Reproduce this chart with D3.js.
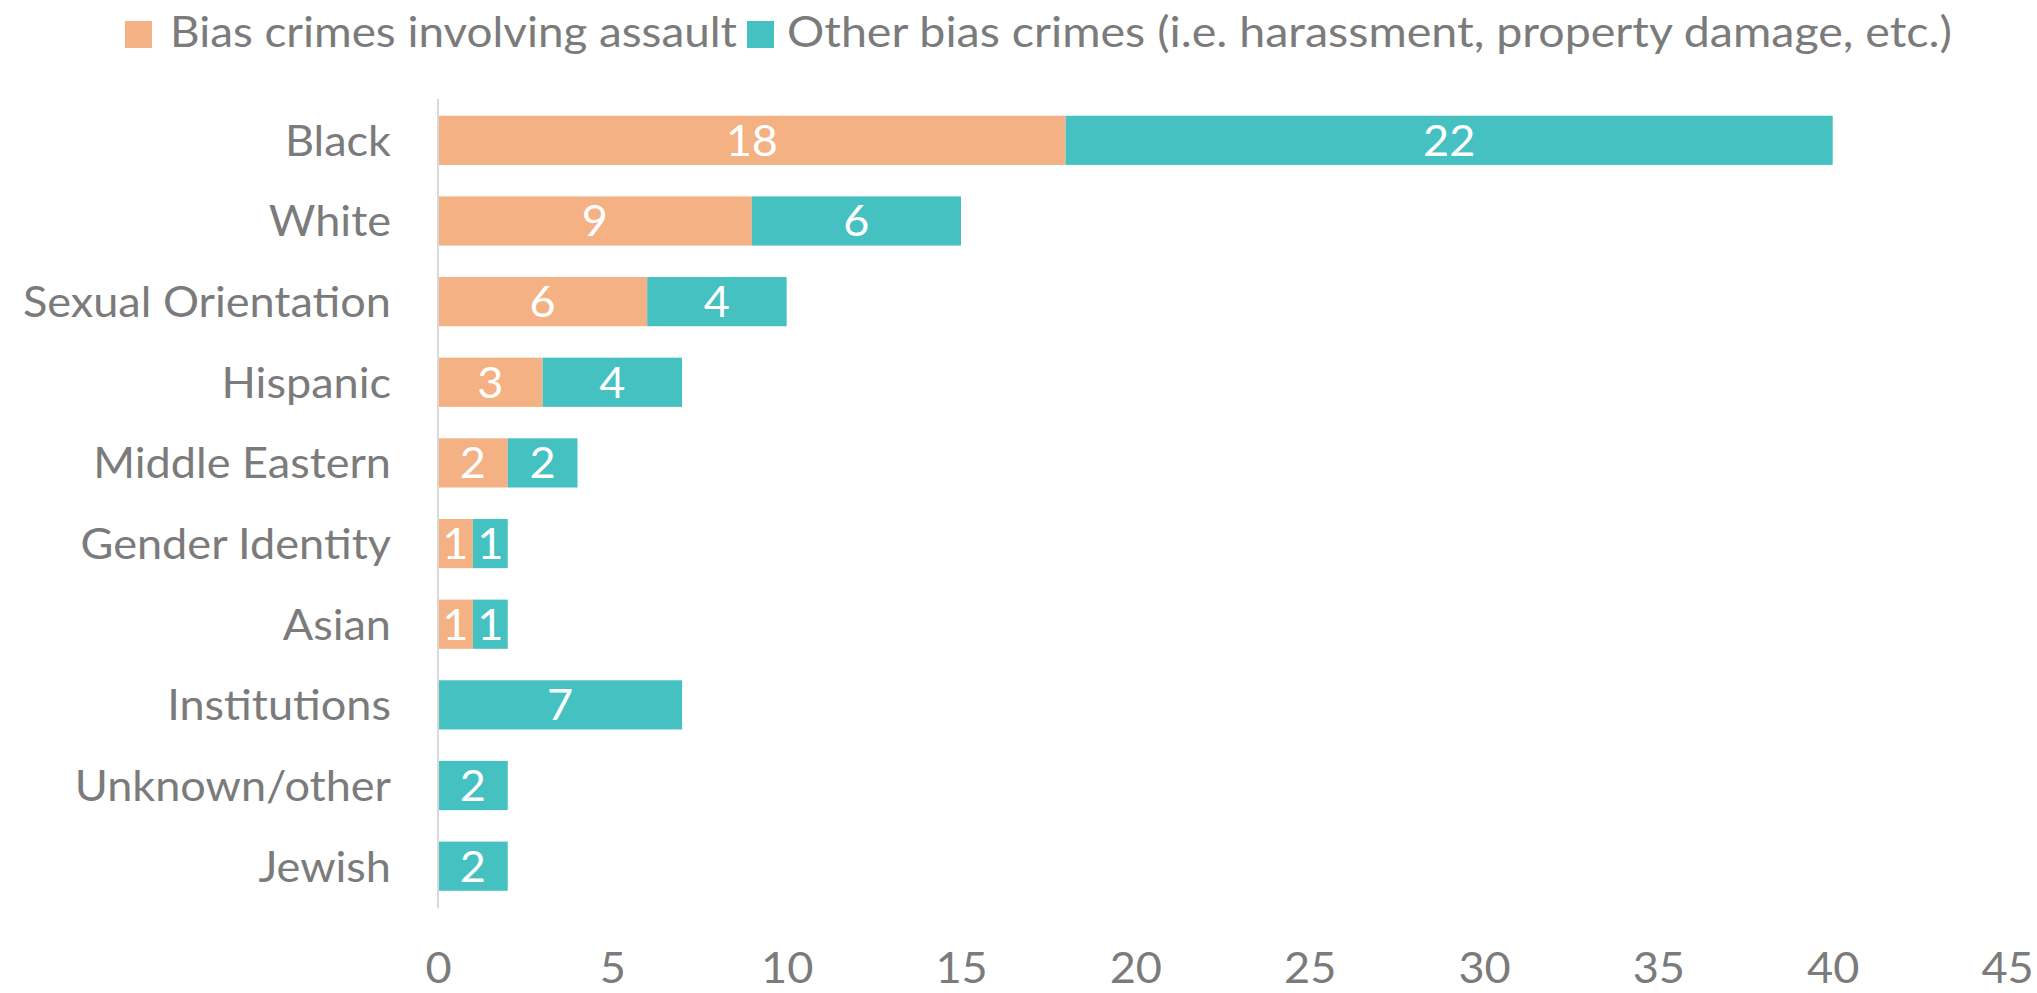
<!DOCTYPE html>
<html>
<head>
<meta charset="utf-8">
<script src="https://cdn.jsdelivr.net/npm/d3@7"></script>
<style>
  html, body { margin: 0; padding: 0; background: #ffffff; }
  svg { display: block; }
</style>
</head>
<body>
<svg id="chart" width="2037" height="993"></svg>
<script>
const categories = ["Black", "White", "Sexual Orientation", "Hispanic", "Middle Eastern",
  "Gender Identity", "Asian", "Institutions", "Unknown/other", "Jewish"];
const assault = [18, 9, 6, 3, 2, 1, 1, 0, 0, 0];
const other = [22, 6, 4, 4, 2, 1, 1, 7, 2, 2];
const seriesNames = ["Bias crimes involving assault", "Other bias crimes (i.e. harassment, property damage, etc.)"];
const xTicks = [0, 5, 10, 15, 20, 25, 30, 35, 40, 45];

const colors = ["#F4B183", "#46C1C1"];
const textColor = "#7B7B7B";
const FONT = "Lato, 'Open Sans', sans-serif";
const FS = 43;
const capH = FS * 0.717;

const svg = d3.select("#chart");
const x = d3.scaleLinear().domain([0, 45]).range([438, 2007]);
const y = d3.scaleBand().domain(categories).range([100, 906.5]).paddingInner(0.39).paddingOuter(0.195);

// measure horizontal compression factor (Calibri is narrower)
const probe = svg.append("text").attr("font-family", FONT).attr("font-size", FS).text("Sexual Orientation");
const k = 368 / probe.node().getComputedTextLength();
probe.remove();
function squeeze(sel) {
  sel.each(function() {
    const w = this.getComputedTextLength();
    d3.select(this).attr("textLength", w * k).attr("lengthAdjust", "spacingAndGlyphs");
  });
}

// stacked data
const data = categories.map((c, i) => ({cat: c, vals: [assault[i], other[i]]}));
const stack = d3.stack().keys([0, 1]).value((d, key) => d.vals[key]);
const stacked = stack(data);

const gBars = svg.append("g");
stacked.forEach((layer, si) => {
  gBars.selectAll(null).data(layer.filter(d => d[1] - d[0] > 0)).enter().append("rect")
    .attr("x", d => x(d[0]))
    .attr("y", d => y(d.data.cat))
    .attr("width", d => x(d[1]) - x(d[0]))
    .attr("height", y.bandwidth())
    .attr("fill", colors[si]);
  gBars.selectAll(null).data(layer.filter(d => d[1] - d[0] > 0)).enter().append("text")
    .attr("x", d => (x(d[0]) + x(d[1])) / 2)
    .attr("y", d => y(d.data.cat) + y.bandwidth() / 2 + capH / 2)
    .attr("text-anchor", "middle")
    .attr("font-family", FONT).attr("font-size", FS)
    .attr("fill", "#ffffff")
    .text(d => d[1] - d[0])
    .call(squeeze);
});

// y axis line
svg.append("line").attr("x1", 438).attr("x2", 438).attr("y1", 99).attr("y2", 908)
  .attr("stroke", "#D9D9D9").attr("stroke-width", 2);

// category labels via axis
const yAxis = svg.append("g").attr("transform", "translate(438,0)")
  .call(d3.axisLeft(y).tickSize(0).tickPadding(47));
yAxis.select(".domain").remove();
yAxis.selectAll("text")
  .attr("font-family", FONT).attr("font-size", FS).attr("fill", textColor)
  .attr("dy", null).attr("dominant-baseline", "auto")
  .attr("y", capH / 2)
  .call(squeeze);

// x axis tick labels
const xAxis = svg.append("g").attr("transform", "translate(0,983)")
  .call(d3.axisBottom(x).tickValues(xTicks).tickSize(0).tickPadding(0));
xAxis.select(".domain").remove();
xAxis.selectAll("text")
  .attr("font-family", FONT).attr("font-size", FS).attr("fill", textColor)
  .attr("dy", null).attr("y", 0).attr("dominant-baseline", "auto")
  .call(squeeze);

// legend
const legendItems = [
  {sq: 125, tx: 170, w: 567},
  {sq: 747, tx: 787, w: 1165}
];
seriesNames.forEach((name, i) => {
  const L = legendItems[i];
  svg.append("rect").attr("x", L.sq).attr("y", 21).attr("width", 27).attr("height", 27).attr("fill", colors[i]);
  svg.append("text").attr("x", L.tx).attr("y", 47)
    .attr("font-family", FONT).attr("font-size", FS).attr("fill", textColor)
    .attr("textLength", L.w).attr("lengthAdjust", "spacingAndGlyphs")
    .text(name);
});
</script>
</body>
</html>
